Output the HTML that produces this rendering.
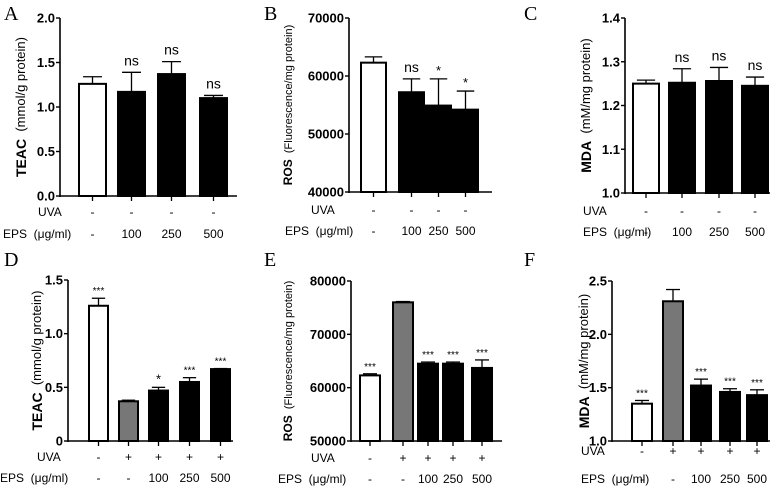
<!DOCTYPE html>
<html><head><meta charset="utf-8"><style>
body{margin:0;background:#fff;}
svg{display:block;font-family:"Liberation Sans",Arial,sans-serif;}
text{white-space:pre;}
</style></head><body>
<svg id="fig" width="783" height="492" viewBox="0 0 783 492"></svg>
<script>
// Data arrays
const aValues=[1.26,1.17,1.37,1.10];
const aErrors=[0.08,0.22,0.14,0.03];
const aMarks=["","ns","ns","ns"];
const aTicks=["0.0","0.5","1.0","1.5","2.0"];
const bValues=[62300,57200,54900,54200];
const bErrors=[1000,2300,4600,3200];
const bMarks=["","ns","*","*"];
const bTicks=["40000","50000","60000","70000"];
const cValues=[1.250,1.252,1.256,1.245];
const cErrors=[0.008,0.032,0.031,0.020];
const cMarks=["","ns","ns","ns"];
const cTicks=["1.0","1.1","1.2","1.3","1.4"];
const dValues=[1.26,0.37,0.47,0.55,0.67];
const dErrors=[0.07,0.01,0.03,0.04,0.005];
const dMarks=["***","","*","***","***"];
const dTicks=["0","0.5","1.0","1.5"];
const eValues=[62300,76000,64500,64500,63700];
const eErrors=[300,150,300,300,1500];
const eMarks=["***","","***","***","***"];
const eTicks=["50000","60000","70000","80000"];
const fValues=[1.35,2.31,1.52,1.46,1.43];
const fErrors=[0.03,0.11,0.06,0.03,0.05];
const fMarks=["***","","***","***","***"];
const fTicks=["1.0","1.5","2.0","2.5"];
const topUva=["-","-","-","-"];
const topEps=["-","100","250","500"];
const botUva=["-","+","+","+","+"];
const botEps=["-","-","100","250","500"];
const topFills=["#fff","#000","#000","#000"];
const botFills=["#fff","#777","#000","#000","#000"];

const NS='http://www.w3.org/2000/svg';
const svg=document.getElementById('fig');
function mk(tag,attrs,parent){const e=document.createElementNS(NS,tag);for(const k in attrs)e.setAttribute(k,attrs[k]);(parent||svg).appendChild(e);return e;}

const panels=[
 {id:'a',letter:'A',lx:4,ly:20,vals:aValues,errs:aErrors,marks:aMarks,ticks:aTicks,min:0,max:2,ax:60,top:18,bot:196,xend:237,bx:[79,118,158,200],bw:27,fills:topFills,uva:topUva,eps:topEps,uvaY:216,epsY:238,uvaX:38,epsX:3,tx:22,tB:'TEAC',tN:'  (mmol/g protein)'},
 {id:'b',letter:'B',lx:264,ly:20,vals:bValues,errs:bErrors,marks:bMarks,ticks:bTicks,min:40000,max:70000,ax:349,top:18,bot:192,xend:492,bx:[361,399,426,453],bw:25,fills:topFills,uva:topUva,eps:topEps,uvaY:214,epsY:235,uvaX:311,epsX:285,tx:289,tB:'ROS',tN:'  (Fluorescence/mg protein)',small:true},
 {id:'c',letter:'C',lx:524,ly:20,vals:cValues,errs:cErrors,marks:cMarks,ticks:cTicks,min:1,max:1.4,ax:625,top:18,bot:193,xend:770,bx:[633,669,706,742],bw:26,fills:topFills,uva:topUva,eps:topEps,uvaY:215,epsY:236,uvaX:583,epsX:583,tx:587,tB:'MDA',tN:'  (mM/mg protein)'},
 {id:'d',letter:'D',lx:4,ly:266,vals:dValues,errs:dErrors,marks:dMarks,ticks:dTicks,min:0,max:1.5,ax:68,top:280,bot:441,xend:233,bx:[89,119,149,180,211],bw:19,fills:botFills,uva:botUva,eps:botEps,uvaY:461,epsY:482,uvaX:37,epsX:0,tx:38,tB:'TEAC',tN:'  (mmol/g protein)'},
 {id:'e',letter:'E',lx:264,ly:266,vals:eValues,errs:eErrors,marks:eMarks,ticks:eTicks,min:50000,max:80000,ax:351,top:281,bot:441,xend:502,bx:[360,393,418,443,472],bw:20,fills:botFills,uva:botUva,eps:botEps,uvaY:462,epsY:483,uvaX:311,epsX:278,tx:289,tB:'ROS',tN:'  (Fluorescence/mg protein)',small:true},
 {id:'f',letter:'F',lx:524,ly:266,vals:fValues,errs:fErrors,marks:fMarks,ticks:fTicks,min:1,max:2.5,ax:612,top:281,bot:441,xend:770,bx:[632,663,691,720,747],bw:20,fills:botFills,uva:botUva,eps:botEps,uvaY:455,epsY:483,uvaX:581,epsX:581,tx:585,tB:'MDA',tN:'  (mM/mg protein)'}
];

panels.forEach(p=>{
 const g=mk('g',{});
 
 
 const yS=v=>p.bot-(v-p.min)/(p.max-p.min)*(p.bot-p.top);
 const L=mk('text',{x:p.lx,y:p.ly,'font-family':'"Liberation Serif",serif','font-size':20},g);L.textContent=p.letter;
 
 
 p.vals.forEach((v,i)=>{
  const x=p.bx[i],w=p.bw,y=yS(v),et=yS(v+p.errs[i]),cx=x+w/2;
  const eb=mk('line',{x1:cx,x2:cx,y1:y,y2:et,stroke:'#000','stroke-width':1.3},g);
  
  
  mk('line',{x1:cx-w*0.35,x2:cx+w*0.35,y1:et,y2:et,stroke:'#000','stroke-width':1.3},g);
  const r=mk('rect',{x:x,y:y,width:w,height:p.bot-y,fill:p.fills[i],stroke:'#000','stroke-width':2},g);
  
  
  if(p.marks[i]){
   const star=p.marks[i].indexOf('*')>=0;
   const t=mk('text',{x:cx,y:et-(star?4:7),'text-anchor':'middle','font-size':star?(p.marks[i].length>1?10:13):14},g);
   t.textContent=p.marks[i];
   
   
  }
  mk('line',{x1:cx,x2:cx,y1:p.bot,y2:p.bot+5,stroke:'#000','stroke-width':1.3},g);
  const u=mk('text',{x:cx,y:p.uvaY,'text-anchor':'middle','font-size':12},g);u.textContent=p.uva[i];
  
  
  const e=mk('text',{x:cx,y:p.epsY,'text-anchor':'middle','font-size':12},g);e.textContent=p.eps[i];
  
  
 });
 const ya=mk('line',{x1:p.ax,x2:p.ax,y1:p.top,y2:p.bot+1,stroke:'#000','stroke-width':1.6},g);
 
 
 const xa=mk('line',{x1:p.ax,x2:p.xend,y1:p.bot,y2:p.bot,stroke:'#000','stroke-width':1.6},g);
 
 
 p.ticks.forEach((t,i)=>{
  const v=p.min+(p.max-p.min)*i/(p.ticks.length-1),y=yS(v);
  mk('line',{x1:p.ax-4,x2:p.ax,y1:y,y2:y,stroke:'#000','stroke-width':1.4},g);
  const tl=mk('text',{x:p.ax-5,y:y+4.5,'text-anchor':'end','font-size':13,'font-weight':'bold'},g);tl.textContent=t;
  
  
 });
 const ul=mk('text',{x:p.uvaX,y:p.uvaY,'font-size':12},g);ul.textContent='UVA';
 
 
 const el=mk('text',{x:p.epsX,y:p.epsY,'font-size':12},g);el.textContent='EPS  (μg/ml)';
 
 
 const cy=(p.top+p.bot)/2;
 const yt=mk('text',{x:p.tx,y:cy,'text-anchor':'middle','font-size':p.small?11:13,transform:`rotate(-90 ${p.tx} ${cy})`,'dominant-baseline':'middle'},g);
 
 
 const b=mk('tspan',{'font-weight':'bold','font-size':p.small?12:14},yt);b.textContent=p.tB;
 const n=mk('tspan',{},yt);n.textContent=p.tN;
});
</script>
</body></html>
